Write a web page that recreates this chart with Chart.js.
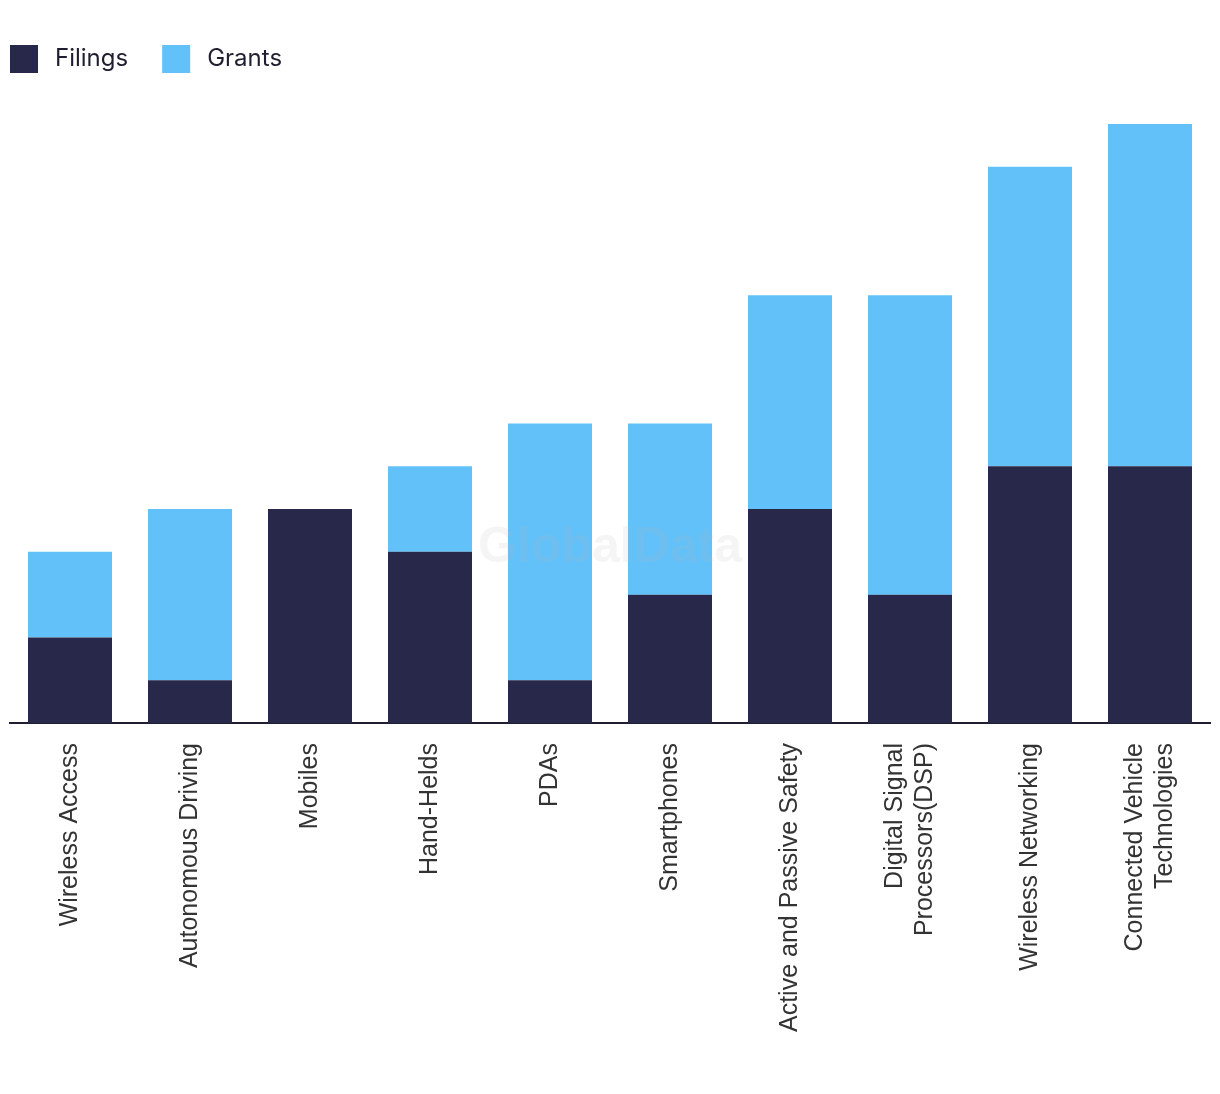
<!DOCTYPE html>
<html>
<head>
<meta charset="utf-8">
<script src="https://cdn.jsdelivr.net/npm/chart.js@4"></script>
<style>
  html, body { margin: 0; padding: 0; background: #ffffff; }
  canvas { display: block; }
</style>
</head>
<body>
<canvas id="c" width="1220" height="1094"></canvas>
<script>
const categories = [
  "Wireless Access",
  "Autonomous Driving",
  "Mobiles",
  "Hand-Helds",
  "PDAs",
  "Smartphones",
  "Active and Passive Safety",
  ["Digital Signal", "Processors(DSP)"],
  "Wireless Networking",
  ["Connected Vehicle", "Technologies"]
];
const filings = [2, 1, 5, 4, 1, 3, 5, 3, 6, 6];
const grants  = [2, 4, 0, 2, 6, 4, 5, 7, 7, 8];
const seriesNames = ["Filings", "Grants"];
const seriesColors = ["#27284a", "#62c1f9"];

const LABEL_SIZE = 25, LABEL_LH = 1.2;

const legendPlugin = {
  id: 'customLegend',
  afterDraw(chart) {
    const ctx = chart.ctx;
    ctx.save();
    ctx.font = '24px Inter, "Noto Sans", sans-serif';
    ctx.textBaseline = 'middle';
    let x = 10;
    const y = 45, box = 28;
    chart.data.datasets.forEach(ds => {
      ctx.fillStyle = ds.backgroundColor;
      ctx.fillRect(x, y, box, box);
      ctx.fillStyle = '#1e1e30';
      ctx.fillText(ds.label, x + box + 17, y + box / 2);
      x += box + 17 + ctx.measureText(ds.label).width + 34;
    });
    ctx.restore();
  }
};

// center multi-line rotated labels on their tick
const centerLabelsPlugin = {
  id: 'centerLabels',
  beforeDraw(chart) {
    const sx = chart.scales.x;
    const items = sx.getLabelItems(chart.chartArea);
    const lh = LABEL_SIZE * LABEL_LH;
    items.forEach(it => {
      if (Array.isArray(it.label) && !it._centered) {
        it.options.translation[0] -= (it.label.length - 1) * lh / 2;
        it._centered = true;
      }
    });
  }
};

const watermarkPlugin = {
  id: 'watermark',
  afterDatasetsDraw(chart) {
    const ctx = chart.ctx;
    ctx.save();
    ctx.font = 'bold 50px "Liberation Sans", Arial, sans-serif';
    ctx.textAlign = 'center';
    ctx.textBaseline = 'middle';
    ctx.fillStyle = 'rgba(184,184,184,0.14)';
    ctx.fillText('GlobalData', 610, 548);
    ctx.restore();
  }
};

new Chart(document.getElementById('c'), {
  type: 'bar',
  data: {
    labels: categories,
    datasets: [
      { label: seriesNames[0], data: filings, backgroundColor: seriesColors[0] },
      { label: seriesNames[1], data: grants, backgroundColor: seriesColors[1] }
    ]
  },
  options: {
    responsive: false,
    animation: false,
    devicePixelRatio: 1,
    layout: { padding: { top: 124, left: 10, right: 10, bottom: 0 } },
    datasets: { bar: { barPercentage: 0.7, categoryPercentage: 1.0, borderWidth: 0 } },
    plugins: {
      legend: { display: false },
      tooltip: { enabled: false }
    },
    scales: {
      x: {
        stacked: true,
        grid: { display: false, drawTicks: false },
        border: { display: true, color: '#1e1e30', width: 2 },
        ticks: {
          minRotation: 90,
          maxRotation: 90,
          padding: 20,
          color: '#333333',
          font: { family: '"Liberation Sans", Arial, sans-serif', size: LABEL_SIZE, lineHeight: LABEL_LH }
        },
        afterFit(scale) {
          scale.height = 371;
          scale.paddingLeft = 0;
          scale.paddingRight = 0;
        }
      },
      y: {
        stacked: true,
        display: false,
        min: 0,
        max: 14
      }
    }
  },
  plugins: [centerLabelsPlugin, legendPlugin, watermarkPlugin]
});
</script>
</body>
</html>
